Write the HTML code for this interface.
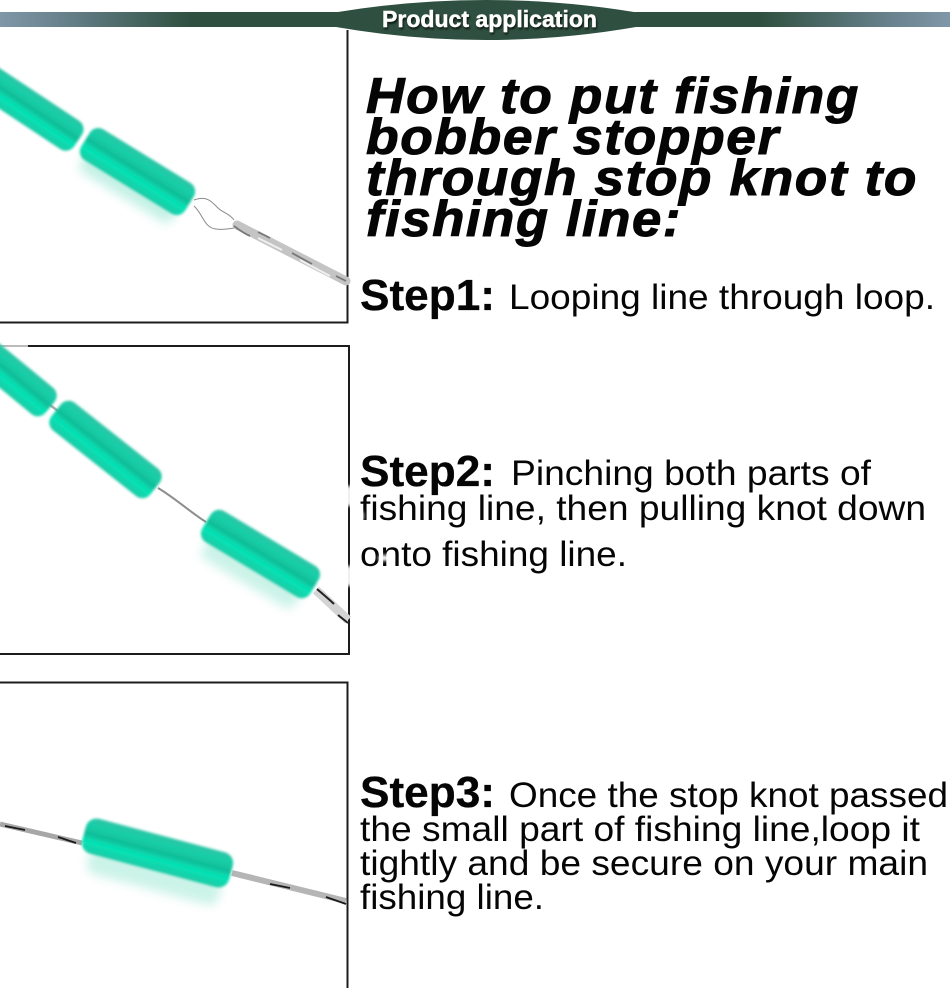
<!DOCTYPE html>
<html><head><meta charset="utf-8"><style>
html,body{margin:0;padding:0;background:#fff;width:950px;height:988px;overflow:hidden}
svg{display:block}
text{font-family:"Liberation Sans",Arial,sans-serif;fill:#050505}
.h{font-weight:bold;font-style:italic;font-size:50px;letter-spacing:1.5px;stroke:#050505;stroke-width:1}
.b{font-weight:bold;font-size:44px;stroke:#050505;stroke-width:.3}
.r{font-size:35px}
</style></head><body>
<svg width="950" height="988" viewBox="0 0 950 988" xmlns="http://www.w3.org/2000/svg">
<defs>
<linearGradient id="band" x1="0" x2="1" y1="0" y2="0">
<stop offset="0" stop-color="#7f97a8"/><stop offset=".07" stop-color="#66808a"/><stop offset=".2" stop-color="#2f5040"/><stop offset=".8" stop-color="#2f5040"/><stop offset=".93" stop-color="#66808a"/><stop offset="1" stop-color="#7f97a8"/>
</linearGradient>
<linearGradient id="bead" x1="0" x2="0" y1="0" y2="1">
<stop offset="0" stop-color="#2cc5a5"/><stop offset=".25" stop-color="#16cfa8"/><stop offset=".48" stop-color="#10bd98"/><stop offset=".68" stop-color="#04e4b6"/><stop offset="1" stop-color="#1cc9a4"/>
</linearGradient>
<filter id="bl" x="-20%" y="-40%" width="140%" height="180%"><feGaussianBlur stdDeviation="1.3"/></filter>
<filter id="sh" x="-30%" y="-80%" width="160%" height="260%"><feGaussianBlur stdDeviation="5"/></filter>
<filter id="w" x="-50%" y="-50%" width="200%" height="200%"><feGaussianBlur stdDeviation="1.5"/></filter>
<filter id="ts" x="-10%" y="-30%" width="120%" height="170%"><feDropShadow dx="1" dy="2" stdDeviation="1" flood-color="#000" flood-opacity=".75"/></filter>
</defs>

<!-- banner -->
<rect x="0" y="12" width="950" height="15" fill="url(#band)"/>
<path d="M338 12Q486 -12 634 12Q639 20 636 27Q486 53 336 27Q334 20 338 12Z" fill="#2f5040"/>
<text x="382" y="27" textLength="215" lengthAdjust="spacingAndGlyphs" font-size="23" font-weight="bold" style="fill:#fff;stroke:#fff;stroke-width:.4" filter="url(#ts)">Product application</text>

<!-- frame 1 -->
<path d="M347.500 30V322.500H0" fill="none" stroke="#1c1c1c" stroke-width="2"/>
<g transform="translate(132 182) rotate(31.600)"><rect x="-54" y="-8" width="108" height="26" rx="8" fill="#9fe8d4" opacity=".6" filter="url(#sh)"/></g>
<g filter="url(#bl)">
<rect x="-66" y="-17" width="132" height="34" rx="10" fill="url(#bead)" transform="translate(23 104) rotate(33.500)"/>
<rect x="-61" y="-18" width="122" height="36" rx="10" fill="url(#bead)" transform="translate(137.500 171.500) rotate(31.600)"/>
</g>
<path d="M194 200C207 195 212 202 218 208C223 213 229 213 234 220M194 206C203 214 204 228 216 229C222 230 228 229 234 228" fill="none" stroke="#8a8a8a" stroke-width="1"/>
<path d="M237 225L346 281" stroke="#c4c4c4" stroke-width="9" stroke-linecap="round"/>
<path d="M234 226C238 229 243 233 250 236M258 232L270 238M292 253L312 264M336 276L346 281" fill="none" stroke="#777" stroke-width="1.800"/>
<path d="M258 238L282 250M300 260L330 276" stroke="#efefef" stroke-width="2"/>

<!-- frame 2 -->
<rect x="0" y="345" width="350" height="2" fill="#1c1c1c"/>
<rect x="0" y="345" width="28" height="2" fill="#fff" opacity=".7"/>
<path d="M349 345V654H0" fill="none" stroke="#1c1c1c" stroke-width="2"/>
<rect x="346" y="486" width="6" height="20" fill="#fff" filter="url(#w)"/>
<rect x="346" y="566" width="6" height="20" fill="#fff" filter="url(#w)"/>
<g transform="translate(254 568) rotate(31)"><rect x="-54" y="-6" width="108" height="24" rx="8" fill="#a9ebd9" opacity=".6" filter="url(#sh)"/></g>
<path d="M158 488C175 498 190 512 206 522" fill="none" stroke="#8d8d8d" stroke-width="2"/>
<path d="M50 405L58 411" stroke="#aaa" stroke-width="2.500"/>
<g filter="url(#bl)">
<rect x="-46" y="-17" width="92" height="34" rx="10" fill="url(#bead)" transform="translate(14.500 378) rotate(39.500)"/>
<rect x="-63" y="-17.500" width="126" height="35" rx="10" fill="url(#bead)" transform="translate(105.500 449.500) rotate(38.300)"/>
<rect x="-63" y="-18" width="126" height="36" rx="10" fill="url(#bead)" transform="translate(260.500 554) rotate(31)"/>
</g>
<path d="M316 590L348 620" stroke="#d4d4d4" stroke-width="9"/>
<path d="M317 589C325 596 330 600 334 604M338 615L348 623" fill="none" stroke="#222" stroke-width="2"/>

<!-- frame 3 -->
<path d="M0 682.500H347.500V988" fill="none" stroke="#1c1c1c" stroke-width="2"/>
<g transform="translate(155 872) rotate(15)"><rect x="-68" y="-8" width="136" height="26" rx="9" fill="#a9ebd9" opacity=".6" filter="url(#sh)"/></g>
<path d="M0 824L82 843" stroke="#a7a7a7" stroke-width="5"/>
<path d="M232 873L346 901" stroke="#b5b5b5" stroke-width="6"/>
<path d="M5 826L25 830M58 837L76 843M270 884L290 888M326 897L346 904" stroke="#1a1a1a" stroke-width="1.800"/>
<rect x="-76" y="-18" width="152" height="36" rx="11" fill="url(#bead)" filter="url(#bl)" transform="translate(157.500 853) rotate(14.900)"/>

<!-- heading -->
<text class="h" x="366" y="113" textLength="494" lengthAdjust="spacingAndGlyphs">How to put fishing</text>
<text class="h" x="366" y="154" textLength="414" lengthAdjust="spacingAndGlyphs">bobber stopper</text>
<text class="h" x="366" y="195" textLength="552" lengthAdjust="spacingAndGlyphs">through stop knot to</text>
<text class="h" x="366" y="236" textLength="316" lengthAdjust="spacingAndGlyphs">fishing line:</text>

<!-- steps -->
<text class="b" x="360" y="310" textLength="135" lengthAdjust="spacingAndGlyphs">Step1:</text>
<text class="r" x="509" y="309" textLength="426" lengthAdjust="spacingAndGlyphs">Looping line through loop.</text>

<text class="b" x="360" y="486" textLength="135" lengthAdjust="spacingAndGlyphs">Step2:</text>
<text class="r" x="511" y="485" textLength="360" lengthAdjust="spacingAndGlyphs">Pinching both parts of</text>
<text class="r" x="360" y="520" textLength="566" lengthAdjust="spacingAndGlyphs">fishing line, then pulling knot down</text>
<text class="r" x="360" y="566" textLength="267" lengthAdjust="spacingAndGlyphs">onto fishing line.</text>
<ellipse cx="384" cy="558" rx="6" ry="3" fill="#fff" filter="url(#w)"/>
<rect x="360" y="512" width="4" height="8" fill="#fff" opacity=".7" filter="url(#w)"/>

<text class="b" x="360" y="807" textLength="135" lengthAdjust="spacingAndGlyphs">Step3:</text>
<text class="r" x="509" y="807" textLength="439" lengthAdjust="spacingAndGlyphs">Once the stop knot passed</text>
<text class="r" x="360" y="841" textLength="560" lengthAdjust="spacingAndGlyphs">the small part of fishing line,loop it</text>
<text class="r" x="360" y="875" textLength="568" lengthAdjust="spacingAndGlyphs">tightly and be secure on your main</text>
<text class="r" x="360" y="909" textLength="184" lengthAdjust="spacingAndGlyphs">fishing line.</text>
</svg>
</body></html>
